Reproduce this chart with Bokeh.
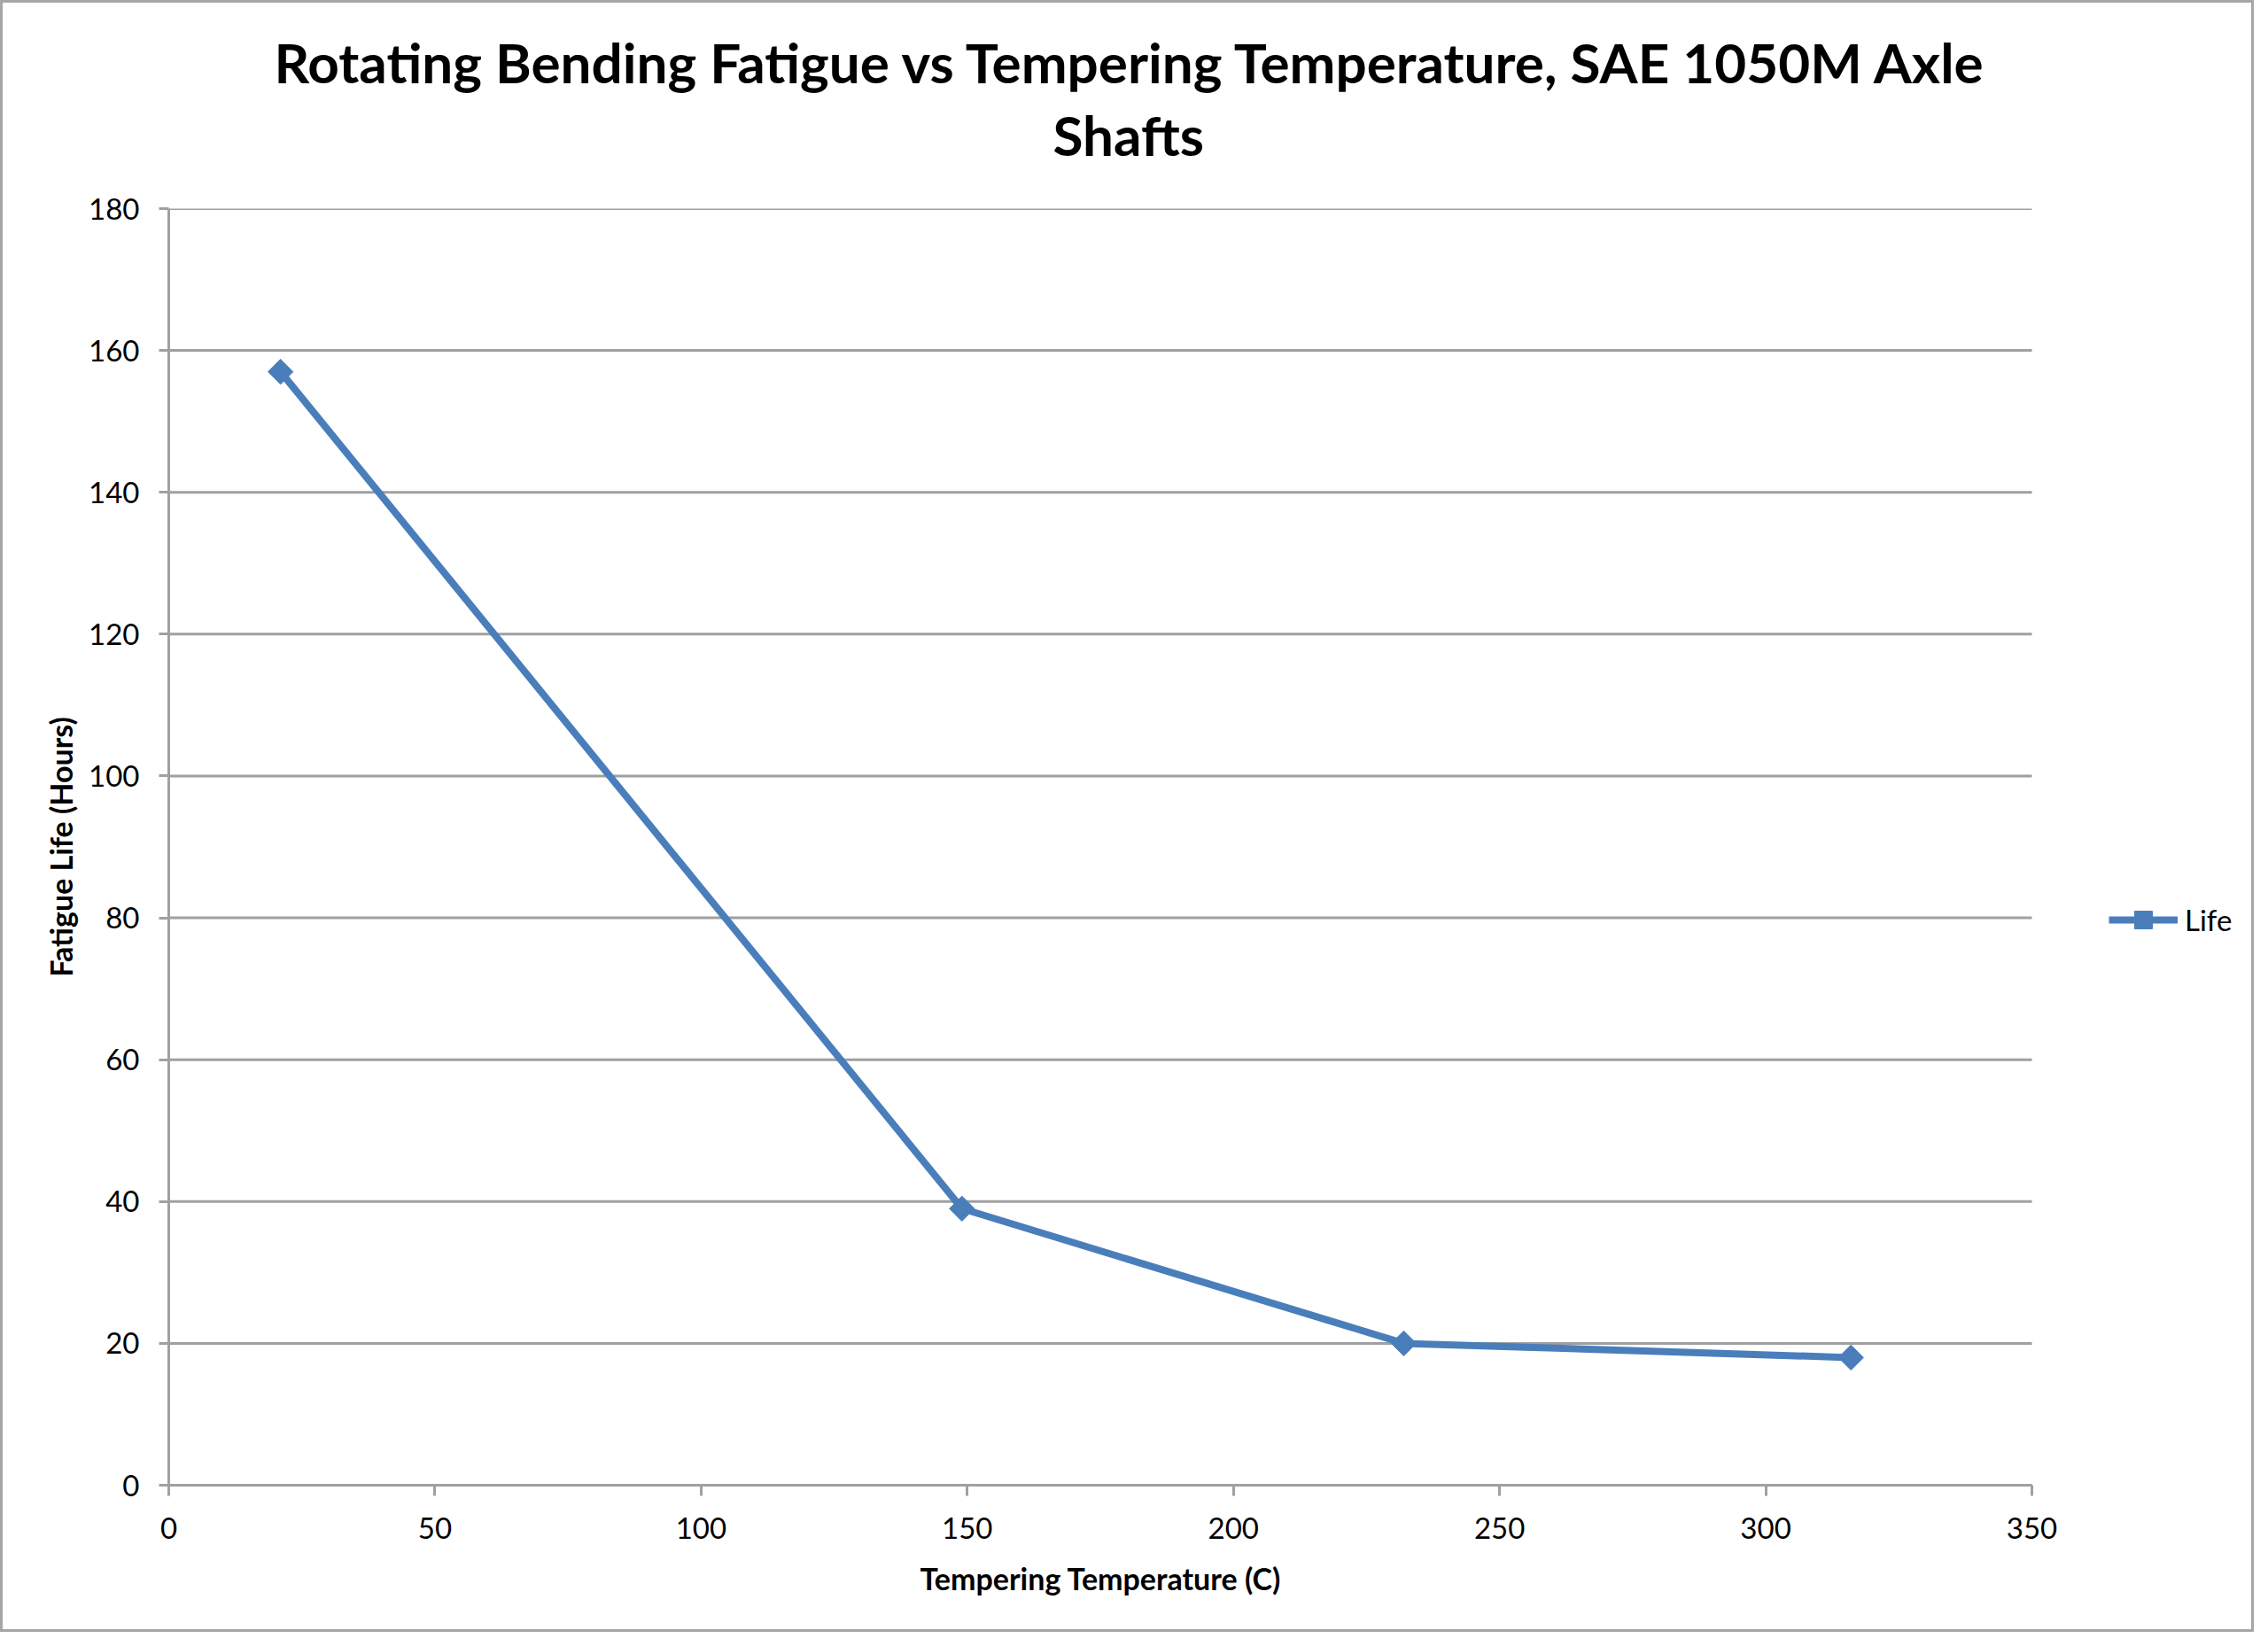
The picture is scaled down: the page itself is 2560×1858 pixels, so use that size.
import math

from bokeh.embed import file_html
from bokeh.models import ColumnDataSource, Legend, LegendItem, Range1d, Title
from bokeh.plotting import figure
from bokeh.resources import INLINE

# tempering temperature (C) vs fatigue life (hours)
temps = [21, 149, 232, 316]
life = [157, 39, 20, 18]

x_ticks = [0, 50, 100, 150, 200, 250, 300, 350]
y_ticks = [0, 20, 40, 60, 80, 100, 120, 140, 160, 180]

title_1 = "Rotating Bending Fatigue vs Tempering Temperature, SAE 1050M Axle"
title_2 = "Shafts"
x_label = "Tempering Temperature (C)"
y_label = "Fatigue Life (Hours)"

FONT = "Lato"
BLUE = "#4a7ebb"
GRAY = "#a0a0a0"

W, H = 2544, 1842
LEFT, RIGHT, TOP, BOTTOM = 187, 10, 232, 169
PLOT_W = 2103          # width of the 0..350 plot area; the frame runs on to hold the legend
frame_w = W - LEFT - RIGHT
x_end = 350 * frame_w / PLOT_W

source = ColumnDataSource(data=dict(x=temps, y=life))
grid = ColumnDataSource(data=dict(x0=[0] * len(y_ticks), x1=[350] * len(y_ticks), y=y_ticks))

p = figure(
    width=W, height=H,
    x_range=Range1d(0, x_end), y_range=Range1d(0, 180),
    output_backend="svg", toolbar_location=None, tools="",
    min_border_left=LEFT, min_border_right=RIGHT,
    min_border_top=TOP, min_border_bottom=BOTTOM,
)
p.styles = {"border": "3px solid #a6a6a6", "box-sizing": "border-box"}
p.outline_line_color = None
p.background_fill_color = "white"

# two-line title, centred on the whole chart (left offsets from the frame edge)
p.add_layout(Title(text=title_2, align="left", offset=998, standoff=93,
                   text_font=FONT, text_font_size="62px", text_font_style="bold",
                   text_color="black"), "above")
p.add_layout(Title(text=title_1, align="left", offset=119, standoff=-81,
                   text_font=FONT, text_font_size="62px", text_font_style="bold",
                   text_color="black"), "above")

p.xaxis.ticker = x_ticks
p.yaxis.ticker = y_ticks
p.xaxis.bounds = (0, 350)
p.grid.grid_line_color = None

for ax in (p.xaxis, p.yaxis):
    ax.axis_line_color = GRAY
    ax.axis_line_width = 3
    ax.major_tick_line_color = GRAY
    ax.major_tick_line_width = 3
    ax.major_tick_in = 0
    ax.minor_tick_line_color = None
    ax.major_label_text_font = FONT
    ax.major_label_text_font_size = "33px"
    ax.major_label_text_color = "black"
    ax.axis_label_text_font = FONT
    ax.axis_label_text_font_size = "34px"
    ax.axis_label_text_font_style = "bold"
    ax.axis_label_text_color = "black"

p.xaxis.major_tick_out = 12
p.yaxis.major_tick_out = 11
p.xaxis.major_label_standoff = 24
p.yaxis.major_label_standoff = 22
p.yaxis.axis_label = y_label
p.yaxis.axis_label_standoff = 8

# x axis title centred under the 0..350 span
p.add_layout(Title(text=x_label, align="left", offset=848, standoff=38,
                   text_font=FONT, text_font_size="34px", text_font_style="bold",
                   text_color="black"), "below")

# horizontal gridlines only across the plot area
p.segment("x0", "y", "x1", "y", source=grid, line_color=GRAY, line_width=3)

ln = p.line("x", "y", source=source, line_color=BLUE, line_width=8)
pts = p.scatter("x", "y", source=source, marker="square", angle=math.pi / 4,
                size=20, fill_color=BLUE, line_color=BLUE)

legend = Legend(
    items=[LegendItem(label="Life", renderers=[ln, pts])],
    location=(PLOT_W + 87, 613), orientation="vertical",
    glyph_width=78, glyph_height=50, label_standoff=8,
    padding=0, margin=0, spacing=0,
    border_line_color=None, background_fill_alpha=0,
    label_text_font=FONT, label_text_font_size="33px", label_text_color="black",
)
p.add_layout(legend, "center")

open("out.html", "w").write(file_html(p, INLINE))
